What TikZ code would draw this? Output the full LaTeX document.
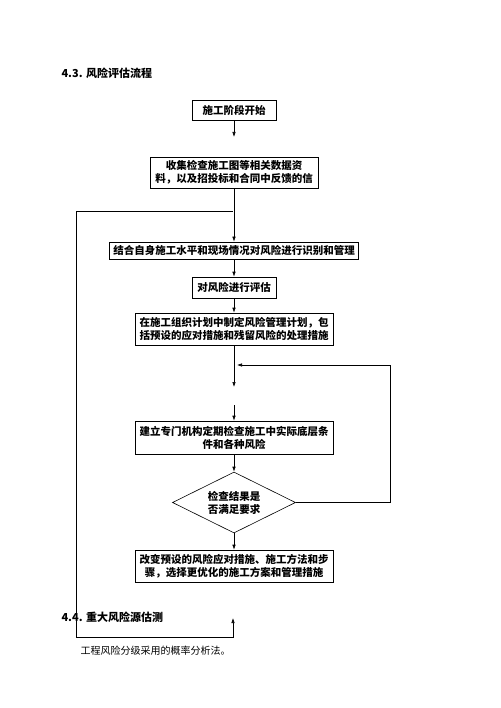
\documentclass[tikz,border=0pt]{standalone}
\usepackage{fontspec}
\setmainfont{Noto Sans CJK SC}
\usetikzlibrary{arrows.meta,shapes,positioning,calc}

\begin{document}
\begin{tikzpicture}[x=1pt,y=-1pt,
    flowbox/.style={draw, line width=0.6pt, align=center, inner sep=0pt,
        font=\fontsize{10.5}{13}\selectfont\bfseries},
    checkbox/.style={flowbox, diamond, shape aspect=2, minimum width=123pt, minimum height=61pt},
    heading/.style={anchor=west, font=\fontsize{11}{13}\selectfont\bfseries},
    flow/.style={-{Latex[length=5pt,width=3.5pt]}, line width=0.6pt}
]
    \useasboundingbox (0,0) rectangle (500,708);
    \node[heading] (title43) at (58,73) {4.3. 风险评估流程};
    \node[flowbox, minimum width=84pt, minimum height=20pt] (start) at (234,110) {施工阶段开始};
    \node[flowbox, minimum width=168pt, minimum height=31pt] (collect) at (234,172.5)
        {收集检查施工图等相关数据资\\料，以及招投标和合同中反馈的信};
    \node[flowbox, minimum width=249pt, minimum height=17pt] (ident) at (234,250.5)
        {结合自身施工水平和现场情况对风险进行识别和管理};
    \node[flowbox, minimum width=84pt, minimum height=21pt] (assess) at (234,287.5) {对风险进行评估};
    \node[flowbox, minimum width=198pt, minimum height=32pt] (plan) at (234,329)
        {在施工组织计划中制定风险管理计划，包\\括预设的应对措施和残留风险的处理措施};
    \node[flowbox, minimum width=198pt, minimum height=33pt] (inspect) at (234,437.5)
        {建立专门机构定期检查施工中实际底层条\\件和各种风险};
    \node[checkbox] (check) at (234,502.5) {检查结果是\\否满足要求};
    \node[flowbox, minimum width=198pt, minimum height=32pt] (change) at (234,566)
        {改变预设的风险应对措施、施工方法和步\\骤，选择更优化的施工方案和管理措施};
    \node[heading] (title44) at (58,617) {4.4. 重大风险源估测};
    \node[anchor=west, font=\fontsize{10}{12}\selectfont] (note) at (77,651) {工程风险分级采用的概率分析法。};

    \coordinate (startend) at (234,137);
    \coordinate (planend) at (234,387);
    \coordinate (inspectin) at (234,405);
    \coordinate (backin) at (237,365);
    \coordinate (backcorner) at (390,365);
    \coordinate (loopend) at (233,618);
    \coordinate (loopin) at (233,211);

    \draw[flow] (start) -- (startend);
    \draw[flow] (collect) -- (ident);
    \draw[flow] (ident) -- (assess);
    \draw[flow] (assess) -- (plan);
    \draw[flow] (plan) -- (planend);
    \draw[flow] (inspectin) -- (inspect);
    \draw[flow] (inspect) -- (check);
    \draw[flow] (check.east) -| (backcorner) -- (backin);
    \draw[flow] (check) -- (change);
    \draw[flow, {Latex[length=5pt,width=3.5pt]}-] (loopend) -- (233,637) -| (76,211) -- (loopin);
\end{tikzpicture}
\end{document}
